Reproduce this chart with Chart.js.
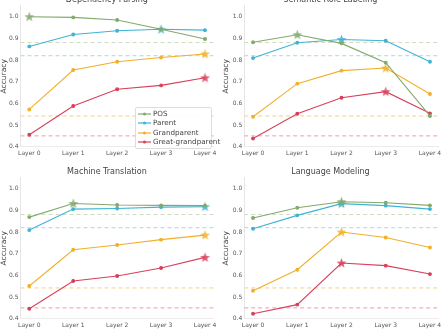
<!DOCTYPE html>
<html lang="en">
<head>
  <meta charset="UTF-8" />
  <title>Probing accuracy by layer</title>
  <script src="https://cdn.jsdelivr.net/npm/chart.js"></script>
  <style>
    body {
      margin: 0;
      width: 445px;
      height: 332px;
      overflow: hidden;
      background: #fff;
      position: relative;
      font-family: 'DejaVu Sans', sans-serif;
    }
    .panel {
      position: absolute;
    }
    .legend {
      position: absolute;
      left: 135px;
      top: 107px;
      width: 77px;
      padding: 1px 0 1px 2px;
      border: 1px solid #ddd;
      border-radius: 2px;
      background: rgba(255,255,255,0.9);
      font-size: 7.2px;
      color: #444;
      box-sizing: border-box;
    }
    .legend div {
      height: 9.4px;
      line-height: 9.4px;
      white-space: nowrap;
    }
    .legend svg {
      vertical-align: middle;
      margin-right: 2px;
    }
  </style>
</head>
<body>
  <canvas id="c0" class="panel"></canvas>
  <canvas id="c1" class="panel"></canvas>
  <canvas id="c2" class="panel"></canvas>
  <canvas id="c3" class="panel"></canvas>
  <div class="legend" id="legend"></div>

  <script>
    const layers = ["Layer 0", "Layer 1", "Layer 2", "Layer 3", "Layer 4"];
    const seriesNames = ["POS", "Parent", "Grandparent", "Great-grandparent"];
    const colors = ["#83a96c", "#3fb3d5", "#f0b02a", "#d8405b"];
    const dashColors = ["#cfdcc2", "#a3d9ea", "#f6cf86", "#f09aaa"];
    const baselines = [0.881, 0.82, 0.542, 0.45];
    const titles = ["Dependency Parsing", "Semantic Role Labeling", "Machine Translation", "Language Modeling"];

    // values per task, rows = POS, Parent, Grandparent, Great-grandparent
    const depParsing = [
      [1.0, 0.997, 0.985, 0.942, 0.897],
      [0.863, 0.918, 0.935, 0.942, 0.938],
      [0.572, 0.754, 0.792, 0.812, 0.828],
      [0.455, 0.588, 0.665, 0.683, 0.718]
    ];
    const srl = [
      [0.882, 0.917, 0.877, 0.788, 0.542],
      [0.809, 0.880, 0.895, 0.889, 0.792],
      [0.538, 0.691, 0.751, 0.763, 0.643],
      [0.438, 0.552, 0.626, 0.654, 0.554]
    ];
    const mt = [
      [0.869, 0.932, 0.925, 0.923, 0.922],
      [0.809, 0.906, 0.909, 0.915, 0.917],
      [0.551, 0.718, 0.740, 0.765, 0.786],
      [0.446, 0.574, 0.597, 0.634, 0.683]
    ];
    const lm = [
      [0.865, 0.912, 0.940, 0.935, 0.923],
      [0.815, 0.877, 0.931, 0.922, 0.906],
      [0.529, 0.626, 0.800, 0.775, 0.729],
      [0.423, 0.465, 0.657, 0.645, 0.606]
    ];
    const tasks = [depParsing, srl, mt, lm];

    // panel boxes: canvas left/top/width/height and plot-area fit
    const panels = [
      { left: 0,   top: -5,    w: 222, h: 166, yW: 20.5, padR: 8.2 },
      { left: 222, top: -5,    w: 223, h: 166, yW: 22.2, padR: 6.2 },
      { left: 0,   top: 166.6, w: 222, h: 166, yW: 20.5, padR: 8.2 },
      { left: 222, top: 166.6, w: 223, h: 166, yW: 22.2, padR: 6.2 }
    ];

    function starImage(color) {
      const c = document.createElement('canvas');
      c.width = 11; c.height = 11;
      const g = c.getContext('2d');
      g.beginPath();
      for (let i = 0; i < 10; i++) {
        const r = i % 2 === 0 ? 5.2 : 2.2;
        const a = -Math.PI / 2 + i * Math.PI / 5;
        g.lineTo(5.5 + r * Math.cos(a), 5.8 + r * Math.sin(a));
      }
      g.closePath();
      g.globalAlpha = 0.85;
      g.fillStyle = color;
      g.fill();
      return c;
    }
    const stars = colors.map(starImage);

    function makeChart(idx) {
      const p = panels[idx];
      const canvas = document.getElementById('c' + idx);
      canvas.style.left = p.left + 'px';
      canvas.style.top = p.top + 'px';
      canvas.style.width = p.w + 'px';
      canvas.style.height = p.h + 'px';
      canvas.width = p.w;
      canvas.height = p.h;

      const data = tasks[idx];
      const datasets = [];

      baselines.forEach((b, s) => {
        datasets.push({
          label: 'base-' + s,
          data: [{ x: -0.2, y: b }, { x: 4.2, y: b }],
          borderColor: dashColors[s],
          borderWidth: 1,
          borderDash: [4, 3],
          pointRadius: 0,
          order: 10
        });
      });

      data.forEach((vals, s) => {
        const best = vals.indexOf(Math.max(...vals));
        datasets.push({
          label: seriesNames[s],
          data: vals.map((v, i) => ({ x: i, y: v })),
          borderColor: colors[s],
          backgroundColor: colors[s],
          borderWidth: 1.1,
          pointStyle: vals.map((v, i) => i === best ? stars[s] : 'circle'),
          pointRadius: 1.4,
          order: 1
        });
      });

      new Chart(canvas, {
        type: 'line',
        data: { datasets },
        options: {
          responsive: false,
          animation: false,
          layout: { padding: { top: 0, right: p.padR, bottom: 0, left: 0 } },
          plugins: {
            legend: { display: false },
            tooltip: { enabled: false },
            title: {
              display: true,
              text: titles[idx],
              color: '#444',
              font: { family: 'DejaVu Sans', size: 8, weight: 'normal' },
              padding: { top: 0, bottom: 1.3 }
            }
          },
          scales: {
            x: {
              type: 'linear',
              min: -0.2,
              max: 4.2,
              grid: { display: false, drawTicks: false },
              border: { color: '#ececec' },
              afterBuildTicks: axis => {
                axis.ticks = layers.map((l, i) => ({ value: i }));
              },
              afterFit: axis => { axis.height = 14.3; },
              ticks: {
                callback: v => layers[v],
                color: '#555',
                padding: 3,
                maxRotation: 0,
                font: { family: 'DejaVu Sans', size: 6 }
              }
            },
            y: {
              min: 0.4,
              max: 1.05,
              grid: { display: false, drawTicks: false },
              border: { color: '#e6e6e6' },
              afterBuildTicks: axis => {
                axis.ticks = [0.4, 0.5, 0.6, 0.7, 0.8, 0.9, 1.0].map(v => ({ value: v }));
              },
              afterFit: axis => { axis.width = p.yW; },
              title: {
                display: true,
                text: 'Accuracy',
                color: '#444',
                padding: 0,
                font: { family: 'DejaVu Sans', size: 7.5 }
              },
              ticks: {
                callback: v => v.toFixed(1),
                color: '#555',
                padding: 2,
                font: { family: 'DejaVu Sans', size: 6 }
              }
            }
          }
        }
      });
    }

    [0, 1, 2, 3].forEach(makeChart);

    const legend = document.getElementById('legend');
    seriesNames.forEach((name, s) => {
      const row = document.createElement('div');
      row.innerHTML =
        '<svg width="13" height="6"><line x1="0" y1="3" x2="13" y2="3" stroke="' + colors[s] +
        '" stroke-width="1.2"/><circle cx="6.5" cy="3" r="1.5" fill="' + colors[s] + '"/></svg>' + name;
      legend.appendChild(row);
    });
  </script>
</body>
</html>
